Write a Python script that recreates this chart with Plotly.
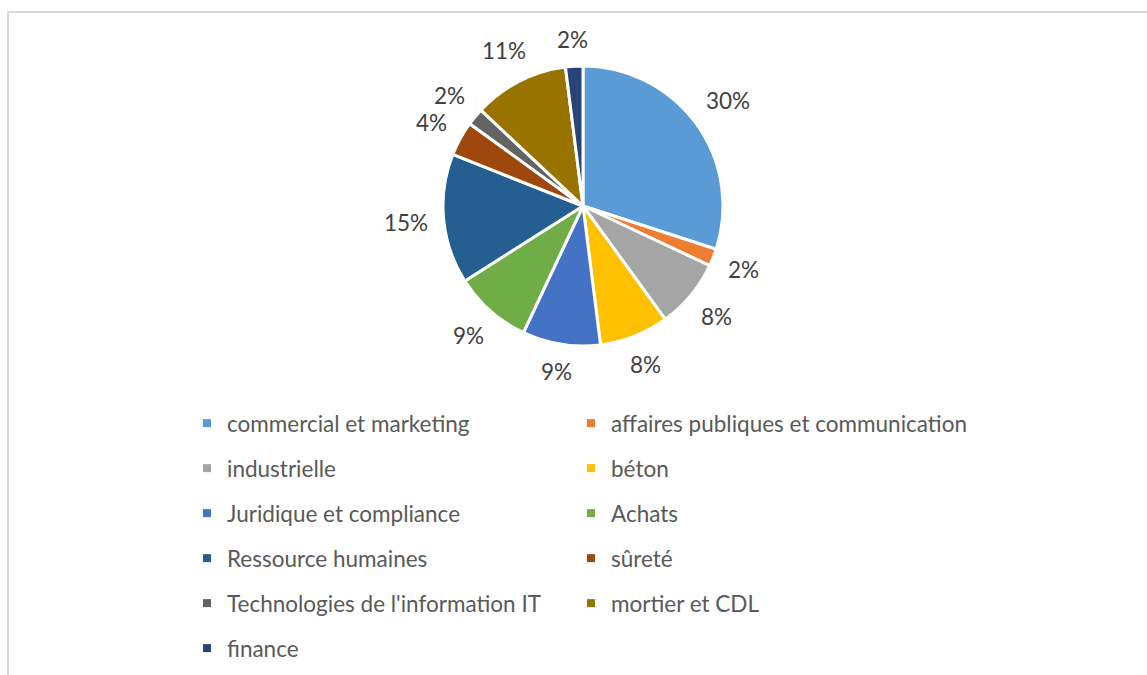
import math
import plotly.graph_objects as go

# Répartition par direction (en %)
categories = [
    "commercial et marketing",
    "affaires publiques et communication",
    "industrielle",
    "béton",
    "Juridique et compliance",
    "Achats",
    "Ressource humaines",
    "sûreté",
    "Technologies de l'information IT",
    "mortier et CDL",
    "finance",
]
shares = [30, 2, 8, 8, 9, 9, 15, 4, 2, 11, 2]
colors = [
    "#5B9BD5", "#ED7D31", "#A5A5A5", "#FFC000", "#4472C4", "#70AD47",
    "#255E91", "#9E480E", "#636363", "#997300", "#264478",
]

W, H = 1147, 675
FONT = "Lato"
FS = 22.5

fig = go.Figure()

# Pie centred near (583, 206) px with radius ~140 px
cx, cy, r = 583, 206, 140
fig.add_trace(go.Pie(
    labels=categories,
    values=shares,
    sort=False,
    direction="clockwise",
    rotation=0,
    marker=dict(colors=colors, line=dict(color="white", width=3)),
    textinfo="none",
    showlegend=False,
    hoverinfo="label+percent",
    domain=dict(x=[(cx - r) / W, (cx + r) / W],
                y=[1 - (cy + r) / H, 1 - (cy - r) / H]),
))

# Percentage labels placed just outside each slice, at the slice's mid-angle
total = sum(shares)
annotations = []
cum = 0.0
for v in shares:
    mid = (cum + v / 2) / total * 2 * math.pi  # clockwise from 12 o'clock
    cum += v
    dx, dy = math.sin(mid), -math.cos(mid)
    txt = f"{round(100 * v / total)}%"
    half_w, half_h = 6.8 * len(txt), 9
    dist = r + 17 + half_w * abs(dx) + half_h * abs(dy)
    px, py = cx + dist * dx, cy + dist * dy
    annotations.append(dict(
        x=px / W, y=1 - py / H, xref="paper", yref="paper",
        text=txt, showarrow=False, xanchor="center", yanchor="middle",
        font=dict(family=FONT, size=FS, color="#404040"),
    ))

# Legend entries in two columns (row-major order of the categories)
for i, (name, col) in enumerate(zip(categories, colors)):
    fig.add_trace(go.Scatter(
        x=[None], y=[None], mode="markers", name=name,
        marker=dict(symbol="square", size=8, color=col),
        legendgroup=f"g{i}",
        legend="legend" if i % 2 == 0 else "legend2",
        hoverinfo="skip",
    ))

legend_common = dict(
    font=dict(family=FONT, size=FS, color="#595959"),
    bgcolor="rgba(0,0,0,0)",
    orientation="v",
    yanchor="top",
    xanchor="left",
    tracegroupgap=12.75,
    itemclick=False,
    itemdoubleclick=False,
)

fig.update_layout(
    width=W,
    height=H,
    margin=dict(l=0, r=0, t=0, b=0),
    paper_bgcolor="white",
    plot_bgcolor="white",
    xaxis=dict(visible=False),
    yaxis=dict(visible=False),
    legend=dict(x=187 / W, y=1 - 402 / H, **legend_common),
    legend2=dict(x=571 / W, y=1 - 402 / H, **legend_common),
    annotations=annotations,
    shapes=[dict(
        type="rect", xref="paper", yref="paper",
        x0=8 / W, x1=1.02, y0=-0.02, y1=1 - 12 / H,
        line=dict(color="#D9D9D9", width=2),
        fillcolor="rgba(0,0,0,0)", layer="below",
    )],
)

fig.write_html("out.html")
